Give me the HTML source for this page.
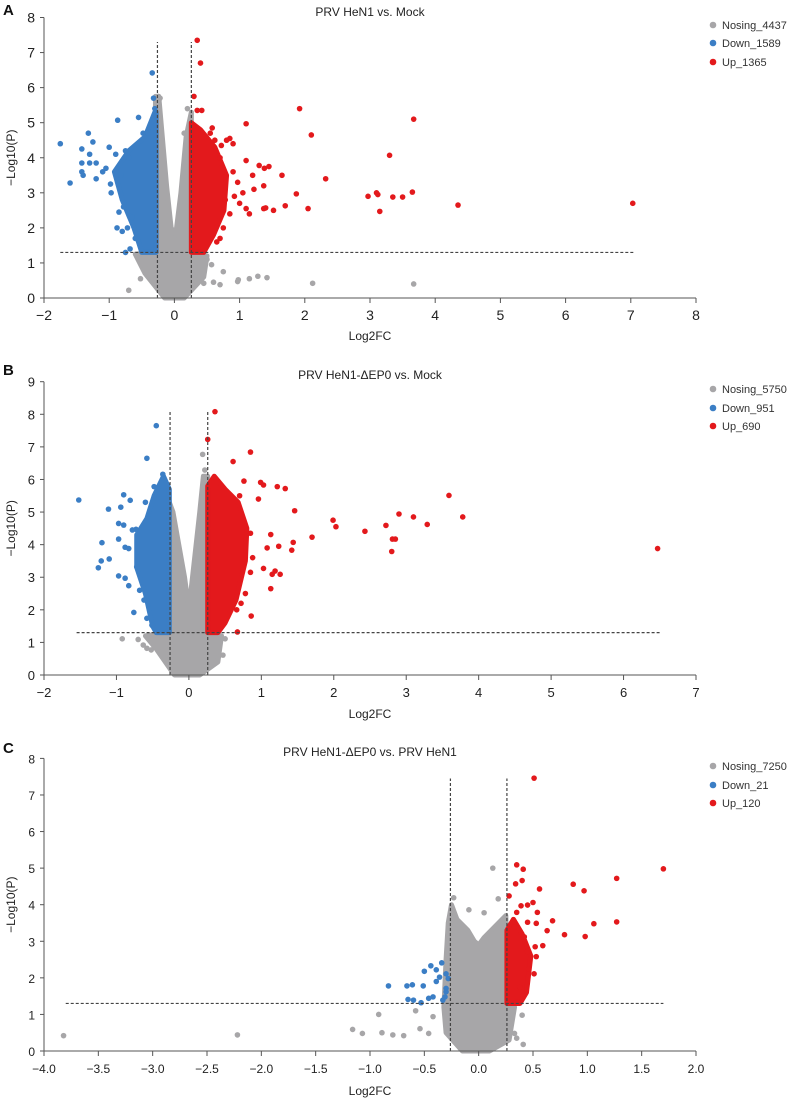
<!DOCTYPE html>
<html><head><meta charset="utf-8">
<style>
html,body{margin:0;padding:0;background:#fff;}
svg{display:block;font-family:"Liberation Sans",sans-serif;}
</style></head>
<body>
<svg id="chart" width="791" height="1099" viewBox="0 0 791 1099" xmlns="http://www.w3.org/2000/svg"></svg>
<script>
// ---------- Panel A data ----------
const aXTicks=[-2,-1,0,1,2,3,4,5,6,7,8];
const aYTicks=[0,1,2,3,4,5,6,7,8];
const aLegend=["Nosing_4437","Down_1589","Up_1365"];
const aUp=[[0.35,7.35],[0.4,6.7],[0.3,5.75],[0.42,5.35],[0.35,5.35],[0.58,4.85],[1.1,4.97],[1.92,5.4],[2.1,4.65],[3.67,5.1],[3.3,4.07],[2.32,3.4],[1.65,3.5],[1.38,3.7],[1.45,3.75],[1.3,3.78],[1.2,3.5],[1.22,3.1],[1.37,3.2],[1.87,2.97],[2.05,2.55],[1.7,2.63],[1.52,2.5],[1.4,2.57],[1.37,2.55],[1.15,2.4],[1.1,2.55],[1.0,2.7],[0.97,3.3],[1.05,3.0],[0.9,4.4],[0.85,4.55],[0.8,4.5],[0.72,4.35],[1.1,3.92],[2.97,2.9],[3.1,3.0],[3.12,2.95],[3.15,2.47],[3.35,2.88],[3.5,2.88],[3.65,3.02],[4.35,2.65],[7.03,2.7],[0.85,2.4],[0.75,2.0],[0.7,1.7],[0.65,1.6],[0.9,3.6],[0.92,2.9],[0.78,2.8],[0.7,4.0],[0.62,4.5],[0.55,4.7]];
const aDown=[[-1.75,4.4],[-1.6,3.28],[-1.42,4.25],[-1.42,3.85],[-1.42,3.6],[-1.4,3.5],[-1.32,4.7],[-1.3,4.1],[-1.3,3.85],[-1.25,4.45],[-1.2,3.85],[-1.2,3.4],[-1.1,3.6],[-1.05,3.7],[-1.0,4.3],[-0.98,3.25],[-0.97,3.0],[-0.9,4.1],[-0.87,5.07],[-0.85,2.45],[-0.88,2.0],[-0.8,1.9],[-0.72,2.0],[-0.75,1.3],[-0.55,5.15],[-0.48,4.7],[-0.4,4.7],[-0.34,6.42],[-0.32,5.7],[-0.3,5.4],[-0.7,4.0],[-0.68,1.4],[-0.82,3.5],[-0.78,2.6],[-0.65,2.3],[-0.6,1.7],[-0.75,4.2]];
const aNs=[[-0.7,0.22],[-0.52,0.55],[-0.45,0.85],[0.3,0.55],[0.45,0.42],[0.5,1.1],[0.57,0.95],[0.6,0.45],[0.7,0.38],[0.75,0.75],[0.97,0.47],[0.98,0.52],[1.15,0.55],[1.28,0.62],[1.42,0.58],[2.12,0.42],[3.67,0.4],[-0.25,5.75],[-0.22,5.7],[0.2,5.4],[0.2,4.7],[0.15,4.7]];
const aNsRegion=[[-0.29,5.75],[-0.24,5.75],[-0.12,3.2],[-0.05,2.0],[0.02,1.8],[0.1,3.0],[0.18,4.6],[0.26,5.3],[0.26,1.3],[0.5,1.2],[0.45,0.6],[0.15,0],[-0.15,0],[-0.45,0.7],[-0.6,1.25],[-0.3,1.3]];
const aDownRegion=[[-0.28,1.3],[-0.5,1.3],[-0.62,2],[-0.8,2.8],[-0.92,3.6],[-0.7,4.2],[-0.45,4.6],[-0.3,5.3],[-0.28,5.3]];
const aUpRegion=[[0.26,1.3],[0.26,5.0],[0.4,4.8],[0.62,4.3],[0.8,3.5],[0.76,2.5],[0.6,1.8],[0.45,1.3]];
const aCut=[-0.26,0.26,1.3,7.3,-1.75,7.05];

// ---------- Panel B data ----------
const bXTicks=[-2,-1,0,1,2,3,4,5,6,7];
const bYTicks=[0,1,2,3,4,5,6,7,8,9];
const bLegend=["Nosing_5750","Down_951","Up_690"];
const bUp=[[0.36,8.08],[0.26,7.23],[0.85,6.84],[0.61,6.55],[0.76,5.95],[0.99,5.91],[1.03,5.83],[1.22,5.78],[1.33,5.72],[3.59,5.51],[0.96,5.4],[1.46,5.04],[2.9,4.94],[3.1,4.85],[3.78,4.85],[1.99,4.75],[2.03,4.55],[2.72,4.59],[3.29,4.62],[2.43,4.41],[1.7,4.23],[1.13,4.31],[2.81,4.17],[2.85,4.17],[1.44,4.07],[2.8,3.79],[6.47,3.88],[1.24,3.95],[1.08,3.9],[1.42,3.83],[1.03,3.27],[1.19,3.19],[1.26,3.09],[1.15,3.09],[1.13,2.65],[0.86,1.81],[0.67,1.32],[0.85,3.15],[0.88,3.6],[0.85,4.35],[0.78,2.5],[0.72,2.2],[0.66,2.0],[0.7,5.5]];
const bDown=[[-0.45,7.65],[-0.58,6.65],[-0.36,6.16],[-1.52,5.37],[-0.9,5.53],[-0.81,5.36],[-1.11,5.09],[-0.94,5.15],[-0.97,4.65],[-0.9,4.6],[-1.2,4.06],[-0.97,4.17],[-0.88,3.92],[-0.83,3.88],[-1.1,3.56],[-1.21,3.5],[-1.25,3.29],[-0.97,3.04],[-0.88,2.97],[-0.83,2.74],[-0.76,1.92],[-0.72,3.32],[-0.48,5.78],[-0.58,1.74],[-0.51,1.53],[-0.73,4.47],[-0.78,4.45],[-0.6,5.3],[-0.62,2.3],[-0.68,2.6]];
const bNs=[[-0.92,1.11],[-0.7,1.09],[0.19,6.77],[0.22,6.29],[0.5,1.11],[-0.58,0.82],[-0.52,0.77],[-0.63,0.92],[0.47,0.61]];
const bNsRegion=[[-0.32,5.6],[-0.22,5.0],[-0.06,3.0],[0.0,2.0],[0.05,3.0],[0.15,5.0],[0.2,6.1],[0.26,6.1],[0.26,1.3],[0.45,1.2],[0.4,0.4],[0.15,0],[-0.2,0],[-0.45,0.8],[-0.6,1.2],[-0.32,1.3]];
const bDownRegion=[[-0.27,1.3],[-0.27,5.7],[-0.35,6.1],[-0.48,5.5],[-0.58,4.8],[-0.72,4.3],[-0.72,3.3],[-0.6,2.5],[-0.5,1.5],[-0.45,1.3]];
const bUpRegion=[[0.26,1.3],[0.26,5.8],[0.35,6.1],[0.5,5.7],[0.68,5.3],[0.8,4.5],[0.78,3.5],[0.65,2.3],[0.5,1.6],[0.4,1.3]];
const bCut=[-0.26,0.26,1.3,8.1,-1.55,6.5];

// ---------- Panel C data ----------
const cXTicks=[-4,-3.5,-3,-2.5,-2,-1.5,-1,-0.5,0,0.5,1,1.5,2];
const cYTicks=[0,1,2,3,4,5,6,7,8];
const cLegend=["Nosing_7250","Down_21","Up_120"];
const cUp=[[0.51,7.46],[0.35,5.09],[0.41,4.97],[1.7,4.98],[1.27,4.72],[0.4,4.66],[0.34,4.57],[0.87,4.56],[0.56,4.43],[0.97,4.38],[0.28,4.24],[0.5,4.06],[0.45,3.99],[0.39,3.97],[0.54,3.79],[0.35,3.79],[0.68,3.56],[1.27,3.53],[1.06,3.48],[0.45,3.52],[0.53,3.49],[0.63,3.29],[0.79,3.18],[0.98,3.13],[0.52,2.85],[0.59,2.88],[0.53,2.58],[0.51,2.11],[0.46,2.24],[0.38,1.74],[0.41,1.51],[0.35,1.33],[0.45,2.72],[0.33,3.4],[0.42,3.12]];
const cDown=[[-0.83,1.78],[-0.66,1.78],[-0.61,1.81],[-0.51,1.78],[-0.5,2.18],[-0.44,2.33],[-0.39,2.22],[-0.34,2.41],[-0.3,2.11],[-0.36,2.02],[-0.39,1.9],[-0.3,1.71],[-0.3,1.62],[-0.65,1.41],[-0.6,1.39],[-0.53,1.32],[-0.46,1.44],[-0.42,1.48],[-0.33,1.39],[-0.31,1.48],[-0.28,1.98]];
const cNs=[[-3.82,0.42],[-2.22,0.44],[0.13,5.0],[-0.23,4.19],[-0.92,1.0],[-1.16,0.59],[-1.07,0.48],[-0.89,0.5],[-0.79,0.44],[-0.69,0.42],[-0.58,1.1],[-0.54,0.61],[-0.42,0.94],[-0.46,0.48],[0.41,0.18],[0.33,0.48],[0.4,0.98],[0.35,0.35],[-0.09,3.86],[0.05,3.78],[0.18,4.16]];
const cNsRegion=[[-0.25,4.0],[-0.2,3.6],[-0.1,3.3],[-0.04,3.0],[0.0,2.9],[0.05,3.1],[0.15,3.4],[0.25,3.7],[0.27,1.3],[0.33,1.2],[0.28,0.3],[0.1,0],[-0.15,0],[-0.3,0.5],[-0.32,1.2],[-0.3,2.5],[-0.28,3.5]];
const cDownRegion=[];
const cUpRegion=[[0.26,1.3],[0.26,3.3],[0.32,3.6],[0.4,3.2],[0.48,2.6],[0.44,1.6],[0.38,1.3]];
const cCut=[-0.26,0.26,1.3,7.45,-3.8,1.7];

const NS="http://www.w3.org/2000/svg";
const svg=document.getElementById('chart');
const COL={ns:"#a7a6a8",down:"#3b7ec5",up:"#e3191c"};
function mk(tag,attrs,parent){const e=document.createElementNS(NS,tag);for(const k in attrs)e.setAttribute(k,attrs[k]);(parent||svg).appendChild(e);return e;}

function panel(p){
  const g=mk('g',{});
  
  
  const xs=v=>p.x0+(v-p.xmin)/(p.xmax-p.xmin)*(p.x1-p.x0);
  const ys=v=>p.y0-(v-p.ymin)/(p.ymax-p.ymin)*(p.y0-p.y1);
  const L=mk('text',{x:3,y:p.letterY,'font-size':15,'font-weight':'bold',fill:'#111'},g);L.textContent=p.id;
  
  
  const T=mk('text',{x:p.titleX,y:p.titleY,'font-size':12,'text-anchor':'middle',fill:'#222'},g);T.textContent=p.title;
  
  
  function region(pts,color,name){
    if(!pts.length)return;
    const el=mk('polygon',{points:pts.map(d=>xs(d[0])+','+ys(d[1])).join(' '),fill:color,stroke:color,'stroke-width':5,'stroke-linejoin':'round'},g);
    
    
  }
  region(p.nsR,COL.ns,'nosig-density');
  function pts(arr,color,name){
    arr.forEach(d=>{
      const c=mk('circle',{cx:xs(d[0]),cy:ys(d[1]),r:2.8,fill:color},g);
      
      
    });
  }
  pts(p.ns,COL.ns,'nosig-point');
  region(p.downR,COL.down,'down-density');
  region(p.upR,COL.up,'up-density');
  pts(p.down,COL.down,'down-point');
  pts(p.up,COL.up,'up-point');
  const cut=p.cut;
  const dash={stroke:'#444','stroke-width':1.2,'stroke-dasharray':'3,2',fill:'none'};
  [cut[0],cut[1]].forEach(v=>{
    const l=mk('line',Object.assign({x1:xs(v),x2:xs(v),y1:ys(0),y2:ys(cut[3])},dash),g);
    
    
  });
  const h=mk('line',Object.assign({x1:xs(cut[4]),x2:xs(cut[5]),y1:ys(cut[2]),y2:ys(cut[2])},dash),g);
  
  
  const ax=mk('line',{x1:p.x0,x2:p.x1,y1:p.y0,y2:p.y0,stroke:'#555','stroke-width':1},g);
  
  
  const ay=mk('line',{x1:p.x0,x2:p.x0,y1:p.y0,y2:ys(p.ymax),stroke:'#555','stroke-width':1},g);
  
  
  p.xt.forEach(v=>{
    mk('line',{x1:xs(v),x2:xs(v),y1:p.y0,y2:p.y0+5,stroke:'#555'},g);
    const t=mk('text',{x:xs(v),y:p.y0+22,'font-size':p.fs,'text-anchor':'middle',fill:'#222'},g);
    t.textContent=p.dec?(v<0?'\u2212':'')+Math.abs(v).toFixed(1):(v<0?'\u2212':'')+Math.abs(v);
    
    
  });
  p.yt.forEach(v=>{
    mk('line',{x1:p.x0-4,x2:p.x0,y1:ys(v),y2:ys(v),stroke:'#555'},g);
    const t=mk('text',{x:p.x0-9,y:ys(v)+5,'font-size':p.fs,'text-anchor':'end',fill:'#222'},g);
    t.textContent=v;
    
    
  });
  const xt=mk('text',{x:370,y:p.xTitleY,'font-size':12,'text-anchor':'middle',fill:'#222'},g);xt.textContent='Log2FC';
  
  
  const cy=(p.y0+ys(p.ymax))/2;
  const yt=mk('text',{x:0,y:0,'font-size':12,'text-anchor':'middle',fill:'#222',transform:`translate(15,${cy}) rotate(-90)`},g);yt.textContent='\u2212Log10(P)';
  
  
  const cols=[COL.ns,COL.down,COL.up];
  p.legend.forEach((s,i)=>{
    const lg=mk('g',{},g);
    
    
    mk('circle',{cx:713,cy:p.legY[i],r:3.3,fill:cols[i]},lg);
    const t=mk('text',{x:722,y:p.legY[i]+4,'font-size':11,fill:'#333'},lg);t.textContent=s;
  });
}

panel({id:'A',title:'PRV HeN1 vs. Mock',titleX:370,titleY:16,letterY:15,x0:44,x1:696,xmin:-2,xmax:8,y0:298,y1:17.5,ymin:0,ymax:8,
  xt:aXTicks,yt:aYTicks,fs:14,dec:false,xTitleY:340,legY:[25,43,62],legend:aLegend,
  up:aUp,down:aDown,ns:aNs,nsR:aNsRegion,downR:aDownRegion,upR:aUpRegion,cut:aCut});
panel({id:'B',title:'PRV HeN1-\u0394EP0 vs. Mock',titleX:370,titleY:379,letterY:375,x0:44,x1:696,xmin:-2,xmax:7,y0:675,y1:381.7,ymin:0,ymax:9,
  xt:bXTicks,yt:bYTicks,fs:13,dec:false,xTitleY:718,legY:[389,408,426],legend:bLegend,
  up:bUp,down:bDown,ns:bNs,nsR:bNsRegion,downR:bDownRegion,upR:bUpRegion,cut:bCut});
panel({id:'C',title:'PRV HeN1-\u0394EP0 vs. PRV HeN1',titleX:370,titleY:756,letterY:753,x0:44,x1:696,xmin:-4,xmax:2,y0:1051,y1:758.4,ymin:0,ymax:8,
  xt:cXTicks,yt:cYTicks,fs:12,dec:true,xTitleY:1095,legY:[766,785,803],legend:cLegend,
  up:cUp,down:cDown,ns:cNs,nsR:cNsRegion,downR:cDownRegion,upR:cUpRegion,cut:cCut});
</script>
</body></html>
